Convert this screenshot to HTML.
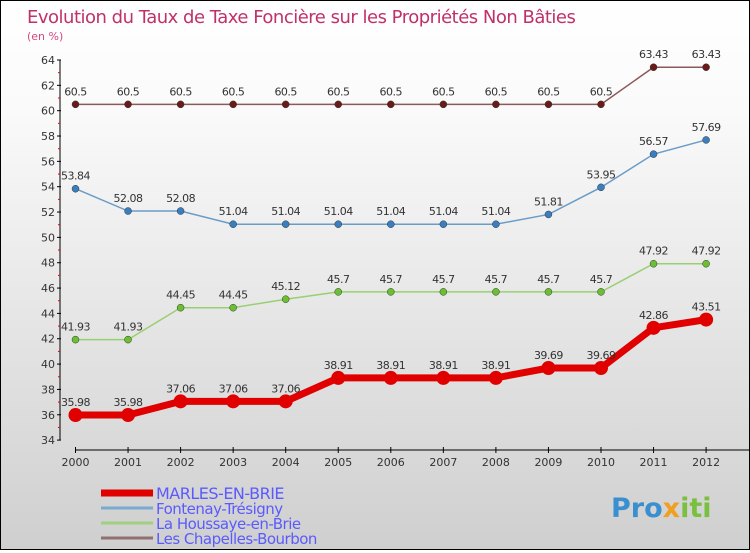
<!DOCTYPE html>
<html><head><meta charset="utf-8"><style>
body{margin:0}
#c{width:748px;height:548px;border:1px solid #000;background:linear-gradient(#fff,#fafafa 20%,#cfcfcf);position:relative;font-family:"DejaVu Sans","Liberation Sans",sans-serif}
</style></head><body>
<div id="c">
<svg width="748" height="548" id="s">
<text x="26" y="22" font-size="18" fill="#c0306a" style="letter-spacing:-0.5px">Evolution du Taux de Taxe Foncière sur les Propriétés Non Bâties</text>
<text x="26" y="39" font-size="11" fill="#d04a80">(en %)</text>
<text x="610" y="516" font-size="27" font-weight="bold" fill="#3a8fd0">Pro<tspan fill="#f0a020">x</tspan><tspan fill="#7ac040">iti</tspan></text>
</svg></div>
<script>
const years=["2000","2001","2002","2003","2004","2005","2006","2007","2008","2009","2010","2011","2012"];
const marles=[35.98,35.98,37.06,37.06,37.06,38.91,38.91,38.91,38.91,39.69,39.69,42.86,43.51];
const fontenay=[53.84,52.08,52.08,51.04,51.04,51.04,51.04,51.04,51.04,51.81,53.95,56.57,57.69];
const houssaye=[41.93,41.93,44.45,44.45,45.12,45.7,45.7,45.7,45.7,45.7,45.7,47.92,47.92];
const chapelles=[60.5,60.5,60.5,60.5,60.5,60.5,60.5,60.5,60.5,60.5,60.5,63.43,63.43];
const yTicks=[34,36,38,40,42,44,46,48,50,52,54,56,58,60,62,64];
const names=["MARLES-EN-BRIE","Fontenay-Trésigny","La Houssaye-en-Brie","Les Chapelles-Bourbon"];
const s=document.getElementById('s'),NS="http://www.w3.org/2000/svg";
const X=i=>74.5+i*52.55, Y=v=>59+(64-v)*12.67;
function el(t,a,p){const e=document.createElementNS(NS,t);for(const k in a)e.setAttribute(k,a[k]);(p||s).appendChild(e);return e;}
let ax=el('line',{x1:59,y1:59,x2:59,y2:439,stroke:'#000'});


let bx=el('line',{x1:74,y1:449,x2:748,y2:449,stroke:'#000'});


yTicks.forEach(v=>{el('line',{x1:56,x2:60,y1:Y(v),y2:Y(v),stroke:'#000'});
 if(v<64)el('line',{x1:57,x2:59,y1:Y(v+1),y2:Y(v+1),stroke:'#e00'});
 const t=el('text',{x:54,y:Y(v)+4,'font-size':11,'text-anchor':'end',fill:'#333'});t.textContent=v;
 
 });
years.forEach((y,i)=>{el('line',{x1:X(i),x2:X(i),y1:446,y2:452,stroke:'#000'});
 const t=el('text',{x:X(i),y:465,'font-size':11,'text-anchor':'middle',fill:'#333'});t.textContent=y;
 
 });
const series=[[chapelles,'#6b1a1a','#8a5a5a',1.5,3.5],[fontenay,'#3a7ec0','#6a9cc8',1.5,3.5],[houssaye,'#6ac030','#98d070',1.5,3.5],[marles,'#e00000','#e00000',7,7]];
series.forEach(([d,pc,lc,w,r],k)=>{
 const g=el('g',{});
 
 
 el('polyline',{points:d.map((v,i)=>X(i)+','+Y(v)).join(' '),fill:'none',stroke:lc,'stroke-width':w},g);
 d.forEach((v,i)=>{const c=el('circle',{cx:X(i),cy:Y(v),r:r,fill:pc,stroke:k==3?'none':'#333','stroke-width':0.5},g);
  
  
  const t=el('text',{x:X(i),y:Y(v)-9,'font-size':11,'text-anchor':'middle',fill:'#333','letter-spacing':'-0.5'},g);t.textContent=v;
  
  });
});
const lc=['#e00000','#7aaad0','#a0d080','#907070'],lw=[7,3,3,3];
names.forEach((n,i)=>{const y=492+i*15;
 const g=el('g',{});
 
 
 el('line',{x1:100,x2:152,y1:y,y2:y,stroke:lc[i],'stroke-width':lw[i]},g);
 const t=el('text',{x:155,y:y+6,'font-size':i==0?16:15,fill:'#5a5aff','letter-spacing':'-0.5'},g);t.textContent=n;});
</script></body></html>
